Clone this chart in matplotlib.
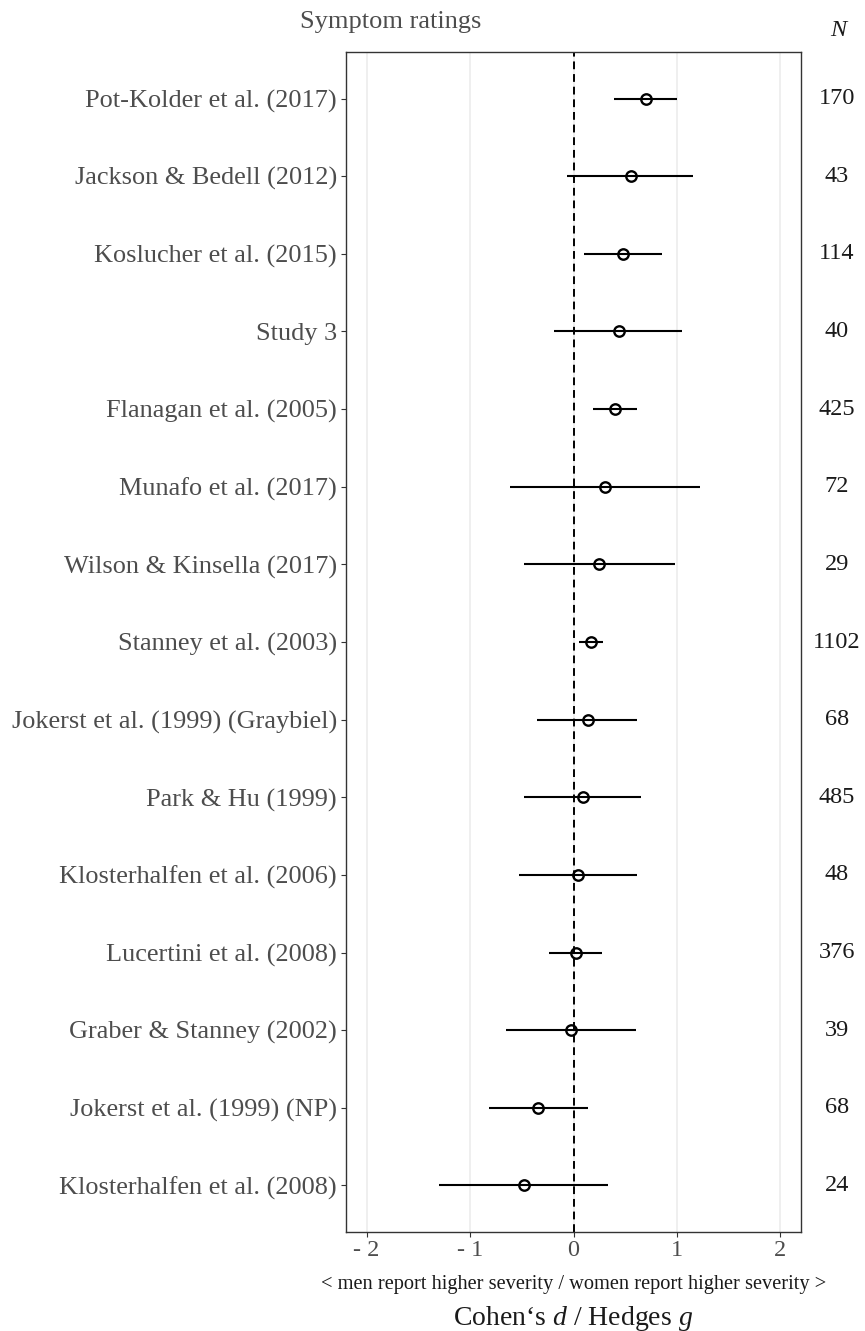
import numpy as np
import matplotlib
matplotlib.use("Agg")
import matplotlib.pyplot as plt
import matplotlib.transforms as mtransforms

plt.rcParams["font.family"] = ["Liberation Serif", "DejaVu Serif"]
plt.rcParams["mathtext.fontset"] = "custom"
plt.rcParams["mathtext.rm"] = "Liberation Serif"
plt.rcParams["mathtext.it"] = "Liberation Serif:italic"

# Studies listed top to bottom
studies = [
    "Pot-Kolder et al. (2017)",
    "Jackson & Bedell (2012)",
    "Koslucher et al. (2015)",
    "Study 3",
    "Flanagan et al. (2005)",
    "Munafo et al. (2017)",
    "Wilson & Kinsella (2017)",
    "Stanney et al. (2003)",
    "Jokerst et al. (1999) (Graybiel)",
    "Park & Hu (1999)",
    "Klosterhalfen et al. (2006)",
    "Lucertini et al. (2008)",
    "Graber & Stanney (2002)",
    "Jokerst et al. (1999) (NP)",
    "Klosterhalfen et al. (2008)",
]
effect = [0.70, 0.56, 0.48, 0.44, 0.40, 0.30, 0.25, 0.17, 0.14, 0.09, 0.04, 0.02, -0.02, -0.34, -0.48]
ci_low = [0.39, -0.06, 0.10, -0.19, 0.19, -0.61, -0.48, 0.05, -0.35, -0.48, -0.53, -0.24, -0.65, -0.82, -1.30]
ci_high = [1.00, 1.16, 0.86, 1.05, 0.61, 1.22, 0.98, 0.29, 0.61, 0.65, 0.61, 0.28, 0.60, 0.14, 0.33]
sample_n = [170, 43, 114, 40, 425, 72, 29, 1102, 68, 485, 48, 376, 39, 68, 24]

x_ticks = [-2, -1, 0, 1, 2]
x_tick_labels = ["- 2", "- 1", "0", "1", "2"]

n = len(studies)
ypos = np.arange(n)[::-1]

fig = plt.figure(figsize=(8.65, 13.31), dpi=100)
ax = fig.add_axes([346 / 865, 1 - 1232 / 1331, 455 / 865, 1180 / 1331])

# vertical grid at major ticks only
for t in x_ticks:
    ax.axvline(t, color="#EBEBEB", linewidth=1.1, zorder=0)

ax.axvline(0, color="black", linestyle=(0, (4, 2.5)), linewidth=1.4, zorder=1)

ax.hlines(ypos, ci_low, ci_high, color="black", linewidth=1.5, zorder=2)
ax.plot(effect, ypos, linestyle="none", marker="o", markersize=7.5,
        markerfacecolor="none", markeredgecolor="black", markeredgewidth=1.7, zorder=3)

ax.set_xlim(-2.2, 2.2)
ax.set_ylim(-0.6, n - 1 + 0.6)
ax.set_xticks(x_ticks)
ax.set_xticklabels(x_tick_labels)
ax.set_yticks(ypos)
ax.set_yticklabels(studies)
ax.tick_params(axis="both", colors="#333333", labelcolor="#4D4D4D",
               length=3.5, width=0.8, labelsize=18.9)
ax.tick_params(axis="x", pad=2, labelsize=17.5)
ax.tick_params(axis="y", pad=3)
for sp in ax.spines.values():
    sp.set_color("#333333")
    sp.set_linewidth(1.0)

# sample sizes to the right of the panel
trans = mtransforms.blended_transform_factory(ax.transAxes, ax.transData)
for y, val in zip(ypos, sample_n):
    ax.text(1.079, y, str(val), transform=trans, ha="center", va="center",
            fontsize=17.5, color="#1A1A1A", clip_on=False)
fig.text(838 / 865, 1 - 30 / 1331, "N", ha="center", va="center",
         fontsize=17.5, style="italic", color="#1A1A1A")

fig.text(391 / 865, 1 - 22 / 1331, "Symptom ratings", ha="center", va="center",
         fontsize=19, color="#4D4D4D")

ax.text(0.5, -0.0449, "< men report higher severity / women report higher severity >",
        transform=ax.transAxes, ha="center", va="center", fontsize=14.7, color="#1A1A1A")
ax.text(0.5, -0.0729, "Cohen\u2018s $\\it{d}$ / Hedges $\\it{g}$",
        transform=ax.transAxes, ha="center", va="center", fontsize=20, color="#1A1A1A")

fig.savefig("out.png", dpi=100)
